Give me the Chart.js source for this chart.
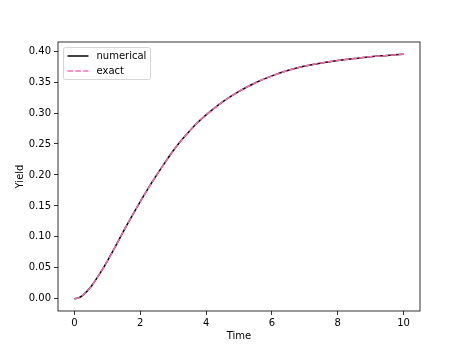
<!DOCTYPE html>
<html>
<head>
<meta charset="utf-8">
<script src="https://cdn.jsdelivr.net/npm/chart.js@4/dist/chart.umd.min.js"></script>
<style>
  html, body { margin: 0; padding: 0; background: #fff; }
  #wrap { width: 467px; height: 350px; }
</style>
</head>
<body>
<div id="wrap"><canvas id="c" width="467" height="350"></canvas></div>
<script>
// ---- data ----
const times = [0, 0.125, 0.25, 0.5, 0.75, 1.0, 1.25, 1.5, 1.75, 2.0, 2.25, 2.5, 2.75, 3.0, 3.25, 3.5, 3.75, 4.0, 4.5, 5.0, 5.5, 6.0, 6.5, 7.0, 7.5, 8.0, 8.5, 9.0, 9.5, 10.0];
const numericalYield = [0, 0.0015, 0.0055, 0.0195, 0.039, 0.061, 0.085, 0.110, 0.134, 0.157, 0.179, 0.200, 0.220, 0.239, 0.256, 0.271, 0.285, 0.297, 0.318, 0.335, 0.349, 0.360, 0.369, 0.376, 0.381, 0.385, 0.388, 0.391, 0.393, 0.395];
const exactYield     = [0, 0.0015, 0.0055, 0.0195, 0.039, 0.061, 0.085, 0.110, 0.134, 0.157, 0.179, 0.200, 0.220, 0.239, 0.256, 0.271, 0.285, 0.297, 0.318, 0.335, 0.349, 0.360, 0.369, 0.376, 0.381, 0.385, 0.388, 0.391, 0.393, 0.395];
const xTicks = [0, 2, 4, 6, 8, 10];
const yTicks = [0.00, 0.05, 0.10, 0.15, 0.20, 0.25, 0.30, 0.35, 0.40];
const seriesLabels = ["numerical", "exact"];
const xTitle = "Time";
const yTitle = "Yield";

const FONT = "'DejaVu Sans', sans-serif";

const toPts = (xs, ys) => xs.map((x, i) => ({ x: x, y: ys[i] }));

// frame around the axes + legend inside the plot
const framePlugin = {
  id: 'frame',
  afterDatasetsDraw(chart) {
    const { ctx, chartArea: a } = chart;
    ctx.save();
    ctx.strokeStyle = '#000';
    ctx.lineWidth = 0.8;
    ctx.strokeRect(a.left, a.top, a.right - a.left, a.bottom - a.top);

    // legend
    const bx = a.left + 5.5, by = a.top + 5.5, bw = 87, bh = 32;
    ctx.beginPath();
    if (ctx.roundRect) ctx.roundRect(bx, by, bw, bh, 2); else ctx.rect(bx, by, bw, bh);
    ctx.fillStyle = 'rgba(255,255,255,0.8)';
    ctx.fill();
    ctx.strokeStyle = 'rgba(204,204,204,0.8)';
    ctx.lineWidth = 1;
    ctx.stroke();

    const items = [
      { label: seriesLabels[0], color: '#000000', dash: [] },
      { label: seriesLabels[1], color: '#ff69b4', dash: [5.5, 2.4] }
    ];
    ctx.font = '10px ' + FONT;
    ctx.textBaseline = 'middle';
    ctx.textAlign = 'left';
    items.forEach((it, i) => {
      const y = by + 8.5 + i * 15;
      ctx.beginPath();
      ctx.setLineDash(it.dash);
      ctx.strokeStyle = it.color;
      ctx.lineWidth = 1.5;
      ctx.moveTo(bx + 4, y);
      ctx.lineTo(bx + 25, y);
      ctx.stroke();
      ctx.setLineDash([]);
      ctx.fillStyle = '#000';
      ctx.fillText(it.label, bx + 33, y);
    });
    ctx.restore();
  }
};

new Chart(document.getElementById('c'), {
  type: 'line',
  data: {
    datasets: [
      {
        label: seriesLabels[0],
        data: toPts(times, numericalYield),
        borderColor: '#000000',
        borderWidth: 1.5,
        pointRadius: 0,
        cubicInterpolationMode: 'monotone',
        fill: false,
        order: 1
      },
      {
        label: seriesLabels[1],
        data: toPts(times, exactYield),
        borderColor: '#ff69b4',
        borderWidth: 1.5,
        borderDash: [5.5, 2.4],
        pointRadius: 0,
        cubicInterpolationMode: 'monotone',
        fill: false,
        order: 0
      }
    ]
  },
  options: {
    responsive: false,
    animation: false,
    devicePixelRatio: 1,
    layout: { padding: { top: 42, right: 47, bottom: 0, left: 0 } },
    plugins: {
      legend: { display: false },
      tooltip: { enabled: false }
    },
    scales: {
      x: {
        type: 'linear',
        min: -0.5,
        max: 10.5,
        afterBuildTicks(scale) { scale.ticks = xTicks.map(v => ({ value: v })); },
        afterFit(scale) { scale.height = 39; },
        ticks: {
          color: '#000',
          font: { family: FONT, size: 10 },
          padding: 2,
          maxRotation: 0,
          callback: v => String(v)
        },
        grid: { display: true, drawOnChartArea: false, drawTicks: true, tickLength: 4, color: '#000', tickWidth: 0.8 },
        border: { display: false },
        title: { display: true, text: xTitle, color: '#000', font: { family: FONT, size: 10 }, padding: { top: 0, bottom: 8 } }
      },
      y: {
        type: 'linear',
        min: -0.01975,
        max: 0.41475,
        afterBuildTicks(scale) { scale.ticks = yTicks.map(v => ({ value: v })); },
        afterFit(scale) { scale.width = 58; },
        ticks: {
          color: '#000',
          font: { family: FONT, size: 10 },
          padding: 3,
          callback: v => Number(v).toFixed(2)
        },
        grid: { display: true, drawOnChartArea: false, drawTicks: true, tickLength: 4, color: '#000', tickWidth: 0.8 },
        border: { display: false },
        title: { display: true, text: yTitle, color: '#000', font: { family: FONT, size: 10 }, padding: { top: 14, bottom: 0 } }
      }
    }
  },
  plugins: [framePlugin]
});
</script>
</body>
</html>
